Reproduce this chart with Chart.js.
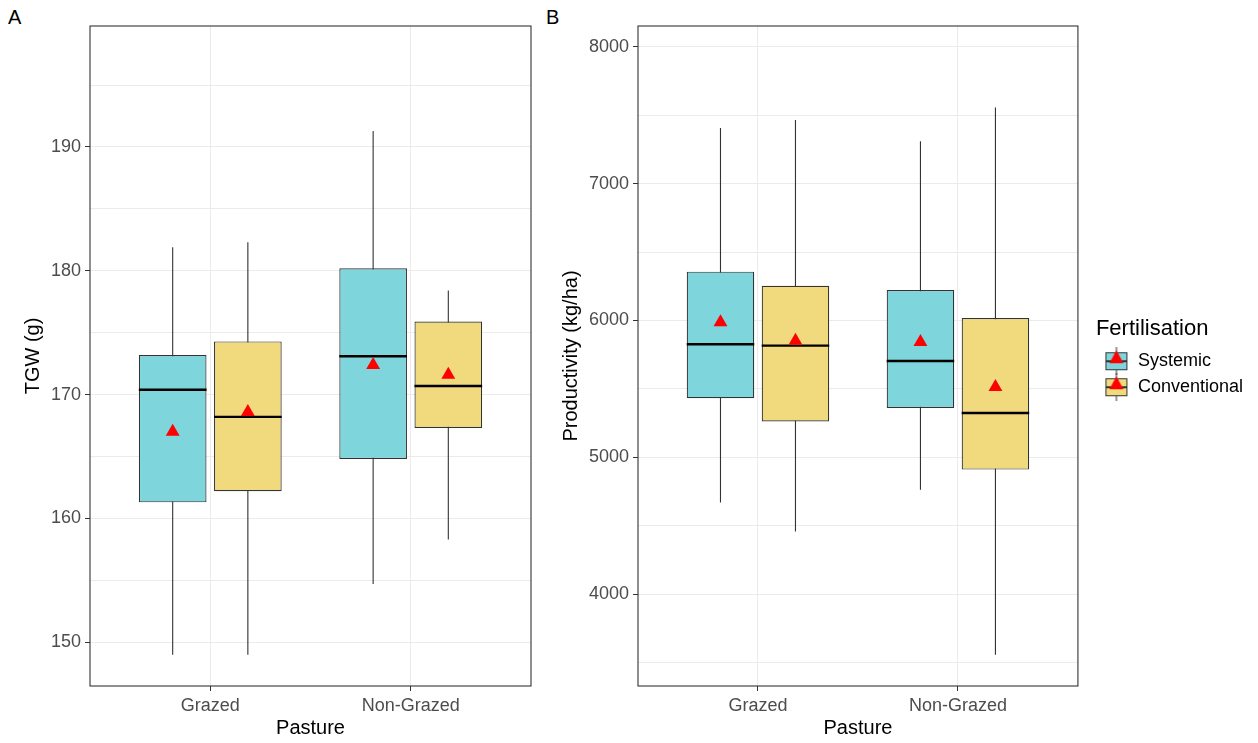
<!DOCTYPE html>
<html>
<head>
<meta charset="utf-8">
<script src="https://cdn.jsdelivr.net/npm/chart.js@4.4.1/dist/chart.umd.min.js"></script>
<style>
  html, body { margin: 0; padding: 0; background: #fff; }
  body { width: 1258px; height: 743px; position: relative; overflow: hidden;
         font-family: "Liberation Sans", Arial, sans-serif; }
  .panel { position: absolute; top: 0; height: 743px; }
  #panelA { left: 0; width: 545px; }
  #panelB { left: 545px; width: 713px; }
  .tag { position: absolute; top: 7px; font-size: 20px; line-height: 20px; color: #000; }
</style>
</head>
<body>
<div class="tag" style="left:8px">A</div>
<div class="tag" style="left:546px">B</div>
<div class="panel" id="panelA"><canvas id="tgw"></canvas></div>
<div class="panel" id="panelB"><canvas id="prod"></canvas></div>
<script>
const pastures = ['Grazed', 'Non-Grazed'];
const fertilisations = ['Systemic', 'Conventional'];
const fillColours = ['#7ED5DB', '#F1D97E'];

// per pasture: [lower whisker, Q1, median, Q3, upper whisker]
const tgwSystemic = [[149.0, 161.3, 170.4, 173.2, 181.9], [154.7, 164.8, 173.1, 180.2, 191.3]];
const tgwConventional = [[149.0, 162.2, 168.2, 174.3, 182.3], [158.3, 167.3, 170.7, 175.9, 178.4]];
const tgwSystemicMean = [167.0, 172.4];
const tgwConventionalMean = [168.6, 171.6];
const tgwTicks = [150, 160, 170, 180, 190];
const tgwMinorTicks = [155, 165, 175, 185, 195];

const prodSystemic = [[4669, 5432, 5826, 6357, 7408], [4762, 5361, 5704, 6223, 7311]];
const prodConventional = [[4457, 5262, 5816, 6254, 7465], [3557, 4910, 5324, 6018, 7557]];
const prodSystemicMean = [5987, 5843];
const prodConventionalMean = [5852, 5514];
const prodTicks = [4000, 5000, 6000, 7000, 8000];
const prodMinorTicks = [3500, 4500, 5500, 6500, 7500];

Chart.defaults.font.family = '"Liberation Sans", Arial, sans-serif';
Chart.defaults.color = '#4d4d4d';

const dodge = [-0.1875, 0.1875];   // group offsets, in pasture units
const halfBox = 0.16875;           // half of a box: 0.75 * 0.9 / 4

function buildDatasets(groups, means) {
  const sets = [];
  groups.forEach((g, k) => {
    sets.push({
      type: 'bar', label: fertilisations[k],
      data: g.map((s, i) => ({ x: i + 1, y: [s[1], s[3]] })),
      backgroundColor: fillColours[k], borderColor: '#333', borderWidth: 1.2,
      borderSkipped: false, categoryPercentage: 0.75, barPercentage: 0.9, order: 2
    });
  });
  groups.forEach((g, k) => {
    const whiskers = [], medians = [];
    g.forEach((s, i) => {
      const cx = i + 1 + dodge[k];
      whiskers.push({ x: cx, y: s[0] }, { x: cx, y: s[4] }, { x: cx, y: null });
      medians.push({ x: cx - halfBox, y: s[2] }, { x: cx + halfBox, y: s[2] }, { x: cx, y: null });
    });
    sets.push({ type: 'line', data: whiskers, borderColor: '#333', borderWidth: 1.1,
                pointRadius: 0, spanGaps: false, order: 3 });
    sets.push({ type: 'line', data: medians, borderColor: '#000', borderWidth: 2.4,
                pointRadius: 0, spanGaps: false, order: 1 });
    sets.push({ type: 'scatter', data: means[k].map((m, i) => ({ x: i + 1 + dodge[k], y: m })),
                pointStyle: 'triangle', pointRadius: 8, backgroundColor: '#ff0000',
                borderWidth: 0, order: 0 });
  });
  return sets;
}

// small boxplot glyph used as the legend key
function legendKey(fill) {
  const c = document.createElement('canvas');
  c.width = 24; c.height = 28;
  const g = c.getContext('2d');
  g.strokeStyle = '#333'; g.lineWidth = 1;
  g.beginPath(); g.moveTo(12, 0); g.lineTo(12, 28); g.stroke();
  g.fillStyle = fill;
  g.fillRect(1.5, 5.5, 21, 17); g.strokeRect(1.5, 5.5, 21, 17);
  g.lineWidth = 2; g.beginPath(); g.moveTo(1.5, 14); g.lineTo(22.5, 14); g.stroke();
  g.fillStyle = '#ff0000';
  g.beginPath(); g.moveTo(12, 3); g.lineTo(19, 16); g.lineTo(5, 16); g.closePath(); g.fill();
  return c;
}

const frame = {
  id: 'frame',
  afterDatasetsDraw(chart) {
    const { ctx, chartArea: a } = chart;
    ctx.save();
    ctx.strokeStyle = '#333';
    ctx.lineWidth = 1.1;
    ctx.strokeRect(a.left, a.top, a.right - a.left, a.bottom - a.top);
    ctx.restore();
  }
};

// leave some room between the panel and the legend
const legendGap = {
  id: 'legendGap',
  afterLayout(chart) {
    const lg = chart.legend;
    if (lg && lg.options.display) { lg.left += 18; lg.right += 18; }
  }
};

function makePanel(id, groups, means, major, minor, yMin, yMax, yTitle, yWidth, titlePad, withLegend) {
  const scales = {
    x: {
      type: 'linear', min: 0.4, max: 2.6, offset: false,
      afterBuildTicks: s => { s.ticks = pastures.map((p, i) => ({ value: i + 1 })); },
      afterFit: s => { s.height = 57; },
      ticks: { callback: v => pastures[v - 1], font: { size: 18 }, color: '#4d4d4d',
               padding: 4, maxRotation: 0 },
      grid: { offset: false, color: '#ebebeb', tickColor: '#333', tickLength: 5 },
      border: { display: false },
      title: { display: true, text: 'Pasture', color: '#000', font: { size: 20 },
               padding: { top: 0, bottom: 3 } }
    },
    y: {
      type: 'linear', min: yMin, max: yMax,
      afterBuildTicks: s => {
        s.ticks = major.concat(minor).sort((a, b) => a - b).map(v => ({ value: v }));
      },
      afterFit: s => { s.width = yWidth; },
      ticks: { callback: v => (major.includes(v) ? String(v) : ''), font: { size: 18 },
               color: '#4d4d4d', padding: 4 },
      grid: { color: '#ebebeb',
              tickColor: c => (major.includes(c.tick.value) ? '#333' : 'rgba(0,0,0,0)'),
              tickLength: 5 },
      border: { display: false },
      title: { display: true, text: yTitle, color: '#000', font: { size: 20 },
               padding: { top: titlePad, bottom: 0 } }
    }
  };
  return new Chart(document.getElementById(id), {
    type: 'bar',
    data: { datasets: buildDatasets(groups, means) },
    options: {
      responsive: true, maintainAspectRatio: false, animation: false, events: [],
      layout: { padding: { top: 26, right: withLegend ? 23 : 14, bottom: 0, left: 0 } },
      scales,
      plugins: {
        tooltip: { enabled: false },
        legend: {
          display: withLegend, position: 'right', align: 'center', fullSize: false,
          title: { display: true, text: 'Fertilisation', color: '#000', position: 'start',
                   font: { size: 22 }, padding: { top: 10, bottom: 0 } },
          labels: {
            usePointStyle: true, pointStyleWidth: 25, padding: 8,
            font: { size: 18 }, color: '#000',
            generateLabels: () => fertilisations.map((f, k) => ({
              text: f, pointStyle: legendKey(fillColours[k]), fillStyle: fillColours[k],
              strokeStyle: '#333', lineWidth: 0, fontColor: '#000', datasetIndex: k, hidden: false
            }))
          }
        }
      }
    },
    plugins: [frame, legendGap]
  });
}

makePanel('tgw', [tgwSystemic, tgwConventional], [tgwSystemicMean, tgwConventionalMean],
          tgwTicks, tgwMinorTicks, 146.47, 199.77, 'TGW (g)', 90, 21, false);
makePanel('prod', [prodSystemic, prodConventional], [prodSystemicMean, prodConventionalMean],
          prodTicks, prodMinorTicks, 3328, 8153, 'Productivity (kg/ha)', 93, 14, true);
</script>
</body>
</html>
